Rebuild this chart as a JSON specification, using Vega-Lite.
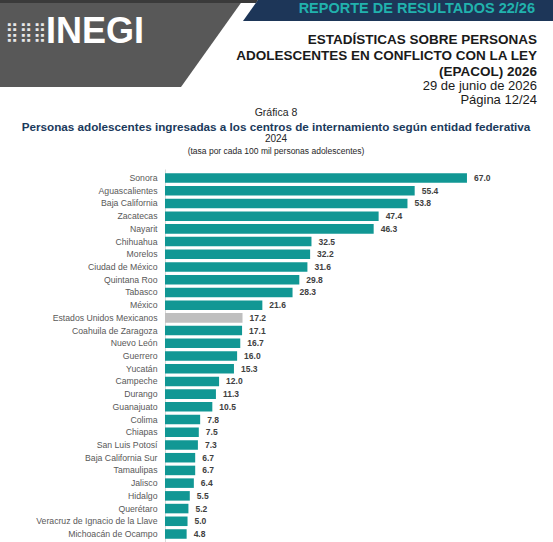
{
  "$schema": "https://vega.github.io/schema/vega-lite/v6.json",
  "padding": 0,
  "spacing": 0,
  "bounds": "flush",
  "background": "white",
  "config": {"view": {"stroke": null}, "font": "Liberation Sans", "concat": {"spacing": 0}},
  "vconcat": [
    {
      "width": 553,
      "height": 169,
      "layer": [
        {
          "data": {"values": [{"x": 243, "y": 0}, {"x": 181, "y": 87}]},
          "mark": {"type": "area", "orient": "horizontal", "color": "#585858"},
          "encoding": {
            "y": {"field": "y", "type": "quantitative", "scale": {"domain": [0, 169], "reverse": true, "nice": false, "zero": false}, "axis": null},
            "x": {"field": "x", "type": "quantitative", "scale": {"domain": [0, 553], "nice": false, "zero": false}, "axis": null},
            "x2": {"datum": 0}
          }
        },
        {
          "data": {"values": [{"x": 258, "y": 0}, {"x": 256, "y": 3}]},
          "mark": {"type": "area", "orient": "horizontal", "color": "#3a3a3a"},
          "encoding": {
            "y": {"field": "y", "type": "quantitative"},
            "x": {"field": "x", "type": "quantitative"},
            "x2": {"datum": 0}
          }
        },
        {
          "data": {"values": [{"x": 258, "y": 0}, {"x": 243, "y": 21}]},
          "mark": {"type": "area", "orient": "horizontal", "color": "#1d3658"},
          "encoding": {
            "y": {"field": "y", "type": "quantitative"},
            "x": {"field": "x", "type": "quantitative"},
            "x2": {"datum": 553}
          }
        },
        {
          "data": {"values": [{}]},
          "mark": {"type": "text", "align": "right", "baseline": "middle", "fontSize": 14.5, "fontWeight": "bold", "color": "#21b2ad"},
          "encoding": {"x": {"datum": 535}, "y": {"datum": 9}, "text": {"value": "REPORTE DE RESULTADOS 22/26"}}
        },
        {
          "data": {"values": [{}]},
          "mark": {"type": "text", "align": "left", "baseline": "middle", "fontSize": 36, "fontWeight": "bold", "color": "white"},
          "encoding": {"x": {"datum": 46}, "y": {"datum": 32}, "text": {"value": "INEGI"}}
        },
        {
          "data": {"values": [{}]},
          "mark": {"type": "text", "align": "left", "baseline": "middle", "fontSize": 19, "font": "DejaVu Sans", "color": "#e8e8e8"},
          "encoding": {"x": {"datum": 5}, "y": {"datum": 32}, "text": {"value": "⣿⣿⣿"}}
        },
        {
          "data": {"values": [{}]},
          "mark": {"type": "text", "align": "right", "baseline": "top", "fontSize": 13.5, "fontWeight": "bold", "lineHeight": 16, "color": "#1a1a1a"},
          "encoding": {"x": {"datum": 537}, "y": {"datum": 33}, "text": {"value": ["ESTADÍSTICAS SOBRE PERSONAS", "ADOLESCENTES EN CONFLICTO CON LA LEY", "(EPACOL) 2026"]}}
        },
        {
          "data": {"values": [{}]},
          "mark": {"type": "text", "align": "right", "baseline": "top", "fontSize": 13, "lineHeight": 14, "color": "#1a1a1a"},
          "encoding": {"x": {"datum": 537}, "y": {"datum": 80}, "text": {"value": ["29 de junio de 2026", "Página 12/24"]}}
        },
        {
          "data": {"values": [{}]},
          "mark": {"type": "text", "align": "center", "baseline": "middle", "fontSize": 10.5, "color": "#262626"},
          "encoding": {"x": {"datum": 276}, "y": {"datum": 113}, "text": {"value": "Gráfica 8"}}
        },
        {
          "data": {"values": [{}]},
          "mark": {"type": "text", "align": "center", "baseline": "middle", "fontSize": 11.7, "fontWeight": "bold", "color": "#1b3a5c"},
          "encoding": {"x": {"datum": 276}, "y": {"datum": 127}, "text": {"value": "Personas adolescentes ingresadas a los centros de internamiento según entidad federativa"}}
        },
        {
          "data": {"values": [{}]},
          "mark": {"type": "text", "align": "center", "baseline": "middle", "fontSize": 10, "color": "#262626"},
          "encoding": {"x": {"datum": 276}, "y": {"datum": 139}, "text": {"value": "2024"}}
        },
        {
          "data": {"values": [{}]},
          "mark": {"type": "text", "align": "center", "baseline": "middle", "fontSize": 8.5, "color": "#262626"},
          "encoding": {"x": {"datum": 276}, "y": {"datum": 151}, "text": {"value": "(tasa por cada 100 mil personas adolescentes)"}}
        }
      ]
    },
    {
      "width": 553,
      "height": 374,
      "data": {"values": [
        {"entidad": "Sonora", "tasa": 67.0, "tipo": "estado"},
        {"entidad": "Aguascalientes", "tasa": 55.4, "tipo": "estado"},
        {"entidad": "Baja California", "tasa": 53.8, "tipo": "estado"},
        {"entidad": "Zacatecas", "tasa": 47.4, "tipo": "estado"},
        {"entidad": "Nayarit", "tasa": 46.3, "tipo": "estado"},
        {"entidad": "Chihuahua", "tasa": 32.5, "tipo": "estado"},
        {"entidad": "Morelos", "tasa": 32.2, "tipo": "estado"},
        {"entidad": "Ciudad de México", "tasa": 31.6, "tipo": "estado"},
        {"entidad": "Quintana Roo", "tasa": 29.8, "tipo": "estado"},
        {"entidad": "Tabasco", "tasa": 28.3, "tipo": "estado"},
        {"entidad": "México", "tasa": 21.6, "tipo": "estado"},
        {"entidad": "Estados Unidos Mexicanos", "tasa": 17.2, "tipo": "nacional"},
        {"entidad": "Coahuila de Zaragoza", "tasa": 17.1, "tipo": "estado"},
        {"entidad": "Nuevo León", "tasa": 16.7, "tipo": "estado"},
        {"entidad": "Guerrero", "tasa": 16.0, "tipo": "estado"},
        {"entidad": "Yucatán", "tasa": 15.3, "tipo": "estado"},
        {"entidad": "Campeche", "tasa": 12.0, "tipo": "estado"},
        {"entidad": "Durango", "tasa": 11.3, "tipo": "estado"},
        {"entidad": "Guanajuato", "tasa": 10.5, "tipo": "estado"},
        {"entidad": "Colima", "tasa": 7.8, "tipo": "estado"},
        {"entidad": "Chiapas", "tasa": 7.5, "tipo": "estado"},
        {"entidad": "San Luis Potosí", "tasa": 7.3, "tipo": "estado"},
        {"entidad": "Baja California Sur", "tasa": 6.7, "tipo": "estado"},
        {"entidad": "Tamaulipas", "tasa": 6.7, "tipo": "estado"},
        {"entidad": "Jalisco", "tasa": 6.4, "tipo": "estado"},
        {"entidad": "Hidalgo", "tasa": 5.5, "tipo": "estado"},
        {"entidad": "Querétaro", "tasa": 5.2, "tipo": "estado"},
        {"entidad": "Veracruz de Ignacio de la Llave", "tasa": 5.0, "tipo": "estado"},
        {"entidad": "Michoacán de Ocampo", "tasa": 4.8, "tipo": "estado"}
      ]},
      "encoding": {
        "y": {
          "field": "entidad", "type": "nominal", "sort": null,
          "scale": {"paddingInner": 0.25, "paddingOuter": 0.333},
          "axis": {"title": null, "offset": -165, "ticks": false, "domainColor": "#d9d9d9", "domainWidth": 1, "labelPadding": 8, "labelColor": "#595959", "labelFontSize": 8.7, "labelFont": "Liberation Sans", "labelLimit": 200}
        },
        "x": {"field": "tasa", "type": "quantitative", "scale": {"domain": [-36.61, 86.09], "nice": false, "zero": false}, "axis": null}
      },
      "layer": [
        {
          "mark": {"type": "bar"},
          "encoding": {
            "x2": {"datum": 0},
            "color": {"field": "tipo", "type": "nominal", "scale": {"domain": ["estado", "nacional"], "range": ["#119794", "#bfbfbf"]}, "legend": null}
          }
        },
        {
          "mark": {"type": "text", "align": "left", "baseline": "middle", "dx": 7, "fontSize": 8.5, "fontWeight": "bold", "color": "#404040"},
          "encoding": {"text": {"field": "tasa", "type": "quantitative", "format": ".1f"}}
        }
      ]
    }
  ]
}
